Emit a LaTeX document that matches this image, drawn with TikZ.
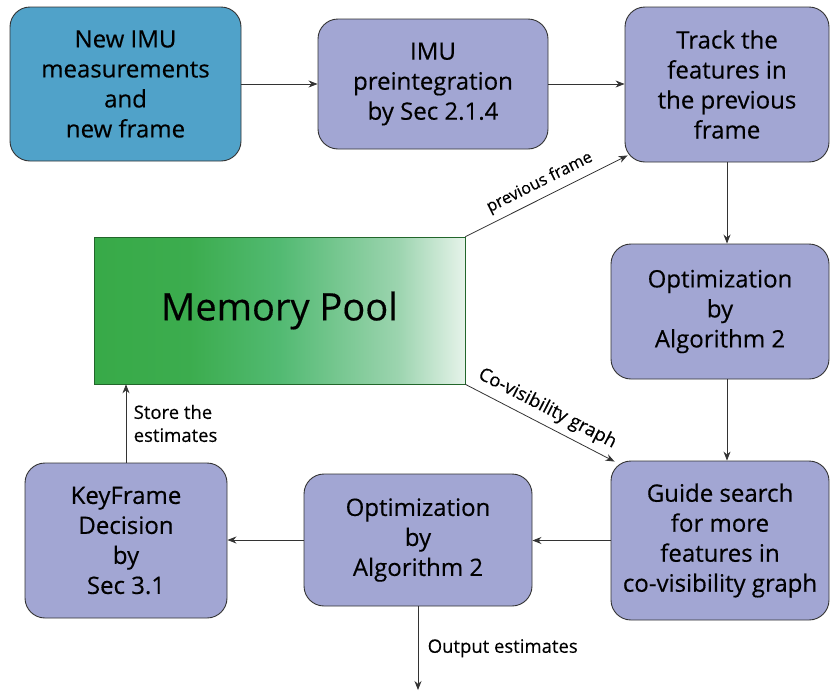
\documentclass[tikz,border=0pt]{standalone}
\usepackage{fontspec}
\setmainfont{Open Sans}[UprightFeatures={FakeBold=0.35}]
\usetikzlibrary{arrows.meta}

\definecolor{boxpurple}{HTML}{A2A6D3}
\definecolor{boxblue}{HTML}{50A2C9}
\definecolor{linegray}{HTML}{333333}
\definecolor{poolA}{HTML}{38AA48}
\definecolor{poolB}{HTML}{52BA72}
\definecolor{poolC}{HTML}{9CD4AF}
\definecolor{poolD}{HTML}{E6F3EA}
\pgfdeclarehorizontalshading{poolshade}{100bp}{color(0bp)=(poolA); color(25bp)=(poolA); color(38bp)=(poolA!85!poolB); color(50bp)=(poolB); color(66bp)=(poolC); color(75bp)=(poolD); color(100bp)=(poolD)}

\tikzset{
  stage/.style={draw=linegray, line width=0.9pt, fill=boxpurple, rounded corners=20pt,
    align=center, inner sep=0pt, font=\fontsize{24}{30}\selectfont},
  flow/.style={draw=linegray, line width=0.8pt, -{Stealth[length=9pt,width=7pt]}},
  note/.style={font=\fontsize{18.5}{23}\selectfont, text=black}
}

\begin{document}
\begin{tikzpicture}[x=1pt,y=-1pt]
\useasboundingbox (0,0) rectangle (830,691);

% top row
\node[stage, fill=boxblue, minimum width=231pt, minimum height=154pt] (imu) at (125.5,84)
  {New IMU\\measurements\\and\\new frame};
\node[stage, minimum width=230pt, minimum height=130pt] (preint) at (433,84)
  {IMU\\preintegration\\by Sec 2.1.4};
\node[stage, minimum width=204pt, minimum height=155pt] (track) at (727,84.5)
  {Track the\\features in\\the previous\\frame};

% right column
\node[stage, minimum width=218pt, minimum height=135pt] (optA) at (720,311.5)
  {Optimization\\by\\Algorithm 2};
\node[stage, minimum width=218pt, minimum height=159pt] (guide) at (720,540.5)
  {Guide search\\for more\\features in\\co-visibility graph};

% bottom row
\node[stage, minimum width=228pt, minimum height=132pt] (optB) at (418,540)
  {Optimization\\by\\Algorithm 2};
\node[stage, minimum width=202pt, minimum height=155pt] (keyframe) at (126,540.5)
  {KeyFrame\\Decision\\by\\Sec 3.1};

% memory pool
\node[draw=poolA!60!black, line width=0.6pt, shading=poolshade, minimum width=371pt,
  minimum height=147pt, inner sep=0pt, font=\fontsize{38}{46}\selectfont] (pool) at (279.5,310.5)
  {Memory Pool};

\coordinate (out) at (418,690);

% connectors
\draw[flow] (imu.east) -- (imu.east -| preint.west);
\draw[flow] (preint.east) -- (preint.east -| track.west);
\draw[flow] (track.south) -- (track.south |- optA.north);
\draw[flow] (optA.south -| track.south) -- (guide.north -| track.south);
\draw[flow] (guide.west) -- (guide.west -| optB.east);
\draw[flow] (optB.west) -- (optB.west -| keyframe.east);
\draw[flow] (keyframe.north) -- (keyframe.north |- pool.south)
  node[note, midway, right=4pt, align=left] {Store the\\estimates};
\draw[flow] (optB.south) -- (out)
  node[note, midway, right=6pt] {Output estimates};
\draw[flow] (pool.north east) -- ([xshift=3pt,yshift=7pt]track.south west)
  node[note, pos=0.5, sloped, above=3pt, font=\fontsize{16.5}{20}\selectfont] {previous frame};
\draw[flow] (pool.south east) -- ([xshift=4pt,yshift=-1pt]guide.north west)
  node[note, pos=0.5, sloped, above=3pt, font=\fontsize{18.5}{22}\selectfont] {Co-visibility graph};
\end{tikzpicture}
\end{document}
